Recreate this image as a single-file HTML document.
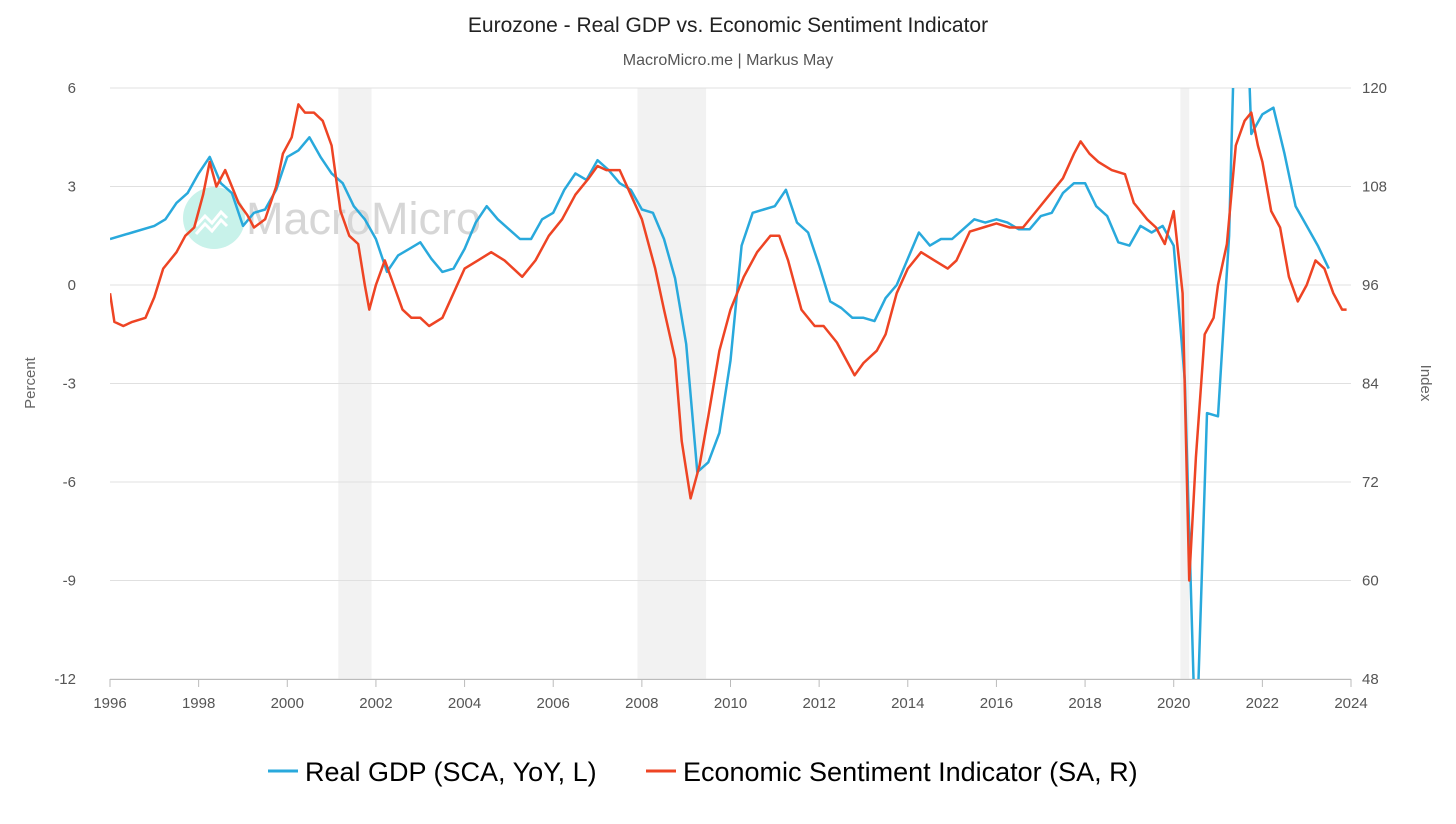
<!DOCTYPE html>
<html><head><meta charset="utf-8">
<style>
body{margin:0;background:#fff;font-family:"Liberation Sans",sans-serif;}
svg text{font-family:"Liberation Sans",sans-serif;}
</style></head>
<body>
<svg id="chart" width="1456" height="819" xmlns="http://www.w3.org/2000/svg">
<rect width="1456" height="819" fill="#fff"/>
<text x="728" y="32" text-anchor="middle" font-size="21" fill="#222">Eurozone - Real GDP vs. Economic Sentiment Indicator</text>
<text x="728" y="65" text-anchor="middle" font-size="16" fill="#555">MacroMicro.me | Markus May</text>
<g id="shades"></g>
<g id="grid"></g>
<g>
<circle cx="214" cy="218" r="31" fill="#c8f2ea"/>
<path d="M196 226 l9-10 7 7 9-11 6 6" stroke="#fff" stroke-width="3" fill="none"/>
<path d="M196 234 l9-10 7 7 9-11 6 6" stroke="#fff" stroke-width="3" fill="none"/>
<text x="246" y="234" font-size="45" fill="#d6d6d6">MacroMicro</text>
</g>
<text transform="translate(35,383) rotate(-90)" text-anchor="middle" font-size="15" fill="#666">Percent</text>
<text transform="translate(1421,383) rotate(90)" text-anchor="middle" font-size="15" fill="#666">Index</text>
<defs><clipPath id="clip"><rect x="110" y="88" width="1241" height="591"/></clipPath></defs>
<g id="series" clip-path="url(#clip)"></g>
<g id="axes"></g>
<g>
<g>
<line x1="268" y1="771" x2="298" y2="771" stroke="#29a9dc" stroke-width="3"/>
<text x="305" y="781" font-size="27" fill="#000">Real GDP (SCA, YoY, L)</text></g>
<g>
<line x1="646" y1="771" x2="676" y2="771" stroke="#ee4424" stroke-width="3"/>
<text x="683" y="781" font-size="27" fill="#000">Economic Sentiment Indicator (SA, R)</text></g>
</g>
</svg>
<script>
const xTicks=[1996,1998,2000,2002,2004,2006,2008,2010,2012,2014,2016,2018,2020,2022,2024];
const leftTicks=[6,3,0,-3,-6,-9,-12];
const rightTicks=[120,108,96,84,72,60,48];
const recessions=[[2001.15,2001.9],[2007.9,2009.45],[2020.15,2020.35]];
const gdpDates=[1996,1996.5,1997,1997.25,1997.5,1997.75,1998,1998.25,1998.5,1998.75,1999,1999.25,1999.5,1999.75,2000,2000.25,2000.5,2000.75,2001,2001.25,2001.5,2001.75,2002,2002.25,2002.5,2002.75,2003,2003.25,2003.5,2003.75,2004,2004.25,2004.5,2004.75,2005,2005.25,2005.5,2005.75,2006,2006.25,2006.5,2006.75,2007,2007.25,2007.5,2007.75,2008,2008.25,2008.5,2008.75,2009,2009.25,2009.5,2009.75,2010,2010.25,2010.5,2010.75,2011,2011.25,2011.5,2011.75,2012,2012.25,2012.5,2012.75,2013,2013.25,2013.5,2013.75,2014,2014.25,2014.5,2014.75,2015,2015.25,2015.5,2015.75,2016,2016.25,2016.5,2016.75,2017,2017.25,2017.5,2017.75,2018,2018.25,2018.5,2018.75,2019,2019.25,2019.5,2019.75,2020,2020.25,2020.5,2020.75,2021,2021.25,2021.5,2021.75,2022,2022.25,2022.5,2022.75,2023,2023.25,2023.5];
const gdpValues=[1.4,1.6,1.8,2.0,2.5,2.8,3.4,3.9,3.1,2.8,1.8,2.2,2.3,2.9,3.9,4.1,4.5,3.9,3.4,3.1,2.4,2.0,1.4,0.4,0.9,1.1,1.3,0.8,0.4,0.5,1.1,1.9,2.4,2.0,1.7,1.4,1.4,2.0,2.2,2.9,3.4,3.2,3.8,3.5,3.1,2.9,2.3,2.2,1.4,0.2,-1.8,-5.7,-5.4,-4.5,-2.3,1.2,2.2,2.3,2.4,2.9,1.9,1.6,0.6,-0.5,-0.7,-1.0,-1.0,-1.1,-0.4,0.0,0.8,1.6,1.2,1.4,1.4,1.7,2.0,1.9,2.0,1.9,1.7,1.7,2.1,2.2,2.8,3.1,3.1,2.4,2.1,1.3,1.2,1.8,1.6,1.8,1.2,-2.9,-14.5,-3.9,-4.0,1.5,14.2,4.6,5.2,5.4,4.0,2.4,1.8,1.2,0.5,0.1];
const esiDates=[1996.0,1996.1,1996.3,1996.5,1996.8,1997.0,1997.2,1997.5,1997.7,1997.9,1998.1,1998.25,1998.4,1998.6,1998.75,1998.9,1999.1,1999.25,1999.5,1999.75,1999.9,2000.1,2000.25,2000.4,2000.6,2000.8,2001.0,2001.2,2001.4,2001.6,2001.75,2001.85,2002.0,2002.2,2002.4,2002.6,2002.8,2003.0,2003.2,2003.5,2003.75,2004.0,2004.3,2004.6,2004.9,2005.1,2005.3,2005.6,2005.9,2006.2,2006.5,2006.8,2007.0,2007.2,2007.5,2007.75,2008.0,2008.3,2008.5,2008.75,2008.9,2009.1,2009.3,2009.5,2009.75,2010.0,2010.3,2010.6,2010.9,2011.1,2011.3,2011.6,2011.9,2012.1,2012.4,2012.6,2012.8,2013.0,2013.3,2013.5,2013.75,2014.0,2014.3,2014.6,2014.9,2015.1,2015.4,2015.7,2016.0,2016.3,2016.6,2016.9,2017.2,2017.5,2017.75,2017.9,2018.1,2018.3,2018.6,2018.9,2019.1,2019.4,2019.6,2019.8,2020.0,2020.2,2020.35,2020.5,2020.7,2020.9,2021.0,2021.2,2021.4,2021.6,2021.75,2021.9,2022.0,2022.2,2022.4,2022.6,2022.8,2023.0,2023.2,2023.4,2023.6,2023.8,2023.9];
const esiValues=[95,91.5,91,91.5,92,94.5,98,100,102,103,107,111,108,110,108,106,104.5,103,104,108,112,114,118,117,117,116,113,105,102,101,96,93,96,99,96,93,92,92,91,92,95,98,99,100,99,98,97,99,102,104,107,109,110.5,110,110,107,104,98,93,87,77,70,74,80,88,93,97,100,102,102,99,93,91,91,89,87,85,86.5,88,90,95,98,100,99,98,99,102.5,103,103.5,103,103,105,107,109,112,113.5,112,111,110,109.5,106,104,103,101,105,95,60,75,90,92,96,101,113,116,117,113,111,105,103,97,94,96,99,98,95,93,93];

const NS="http://www.w3.org/2000/svg";
const X0=110,X1=1351,Y0=88,Y1=679;
const xs=d=>X0+(d-1996)/28*(X1-X0);
const yl=v=>Y0+(6-v)/18*(Y1-Y0);
const yr=v=>Y0+(120-v)/72*(Y1-Y0);
function mk(tag,attrs,parent){const e=document.createElementNS(NS,tag);for(const k in attrs)e.setAttribute(k,attrs[k]);document.getElementById(parent).appendChild(e);return e;}

recessions.forEach(r=>{
  const e=mk('rect',{x:xs(r[0]),y:Y0,width:xs(r[1])-xs(r[0]),height:Y1-Y0,fill:'#f2f2f2'},'shades');
  
  
});
leftTicks.forEach((v,i)=>{
  const y=yl(v);
  const g=mk('line',{x1:X0,x2:X1,y1:y,y2:y,stroke:'#e0e0e0','stroke-width':1},'grid');
  
  
  const t=mk('text',{x:76,y:y+5,'text-anchor':'end','font-size':15,fill:'#555'},'axes');
  t.textContent=v;
  
  
  const t2=mk('text',{x:1362,y:yr(rightTicks[i])+5,'font-size':15,fill:'#555'},'axes');
  t2.textContent=rightTicks[i];
  
  
});
const ax=mk('line',{x1:X0,x2:X1,y1:Y1+0.5,y2:Y1+0.5,stroke:'#bbb'},'axes');


xTicks.forEach(d=>{
  const x=xs(d);
  const tk=mk('line',{x1:x,x2:x,y1:Y1,y2:Y1+8,stroke:'#bbb'},'axes');
  
  
  const t=mk('text',{x:x,y:Y1+29,'text-anchor':'middle','font-size':15,fill:'#555'},'axes');
  t.textContent=d;
  
  
});
const gp=mk('path',{d:gdpDates.map((d,i)=>(i?'L':'M')+xs(d).toFixed(1)+' '+yl(gdpValues[i]).toFixed(1)).join(''),fill:'none',stroke:'#29a9dc','stroke-width':2.5,'stroke-linejoin':'round'},'series');


const ep=mk('path',{d:esiDates.map((d,i)=>(i?'L':'M')+xs(d).toFixed(1)+' '+yr(esiValues[i]).toFixed(1)).join(''),fill:'none',stroke:'#ee4424','stroke-width':2.5,'stroke-linejoin':'round'},'series');


</script>
</body></html>
